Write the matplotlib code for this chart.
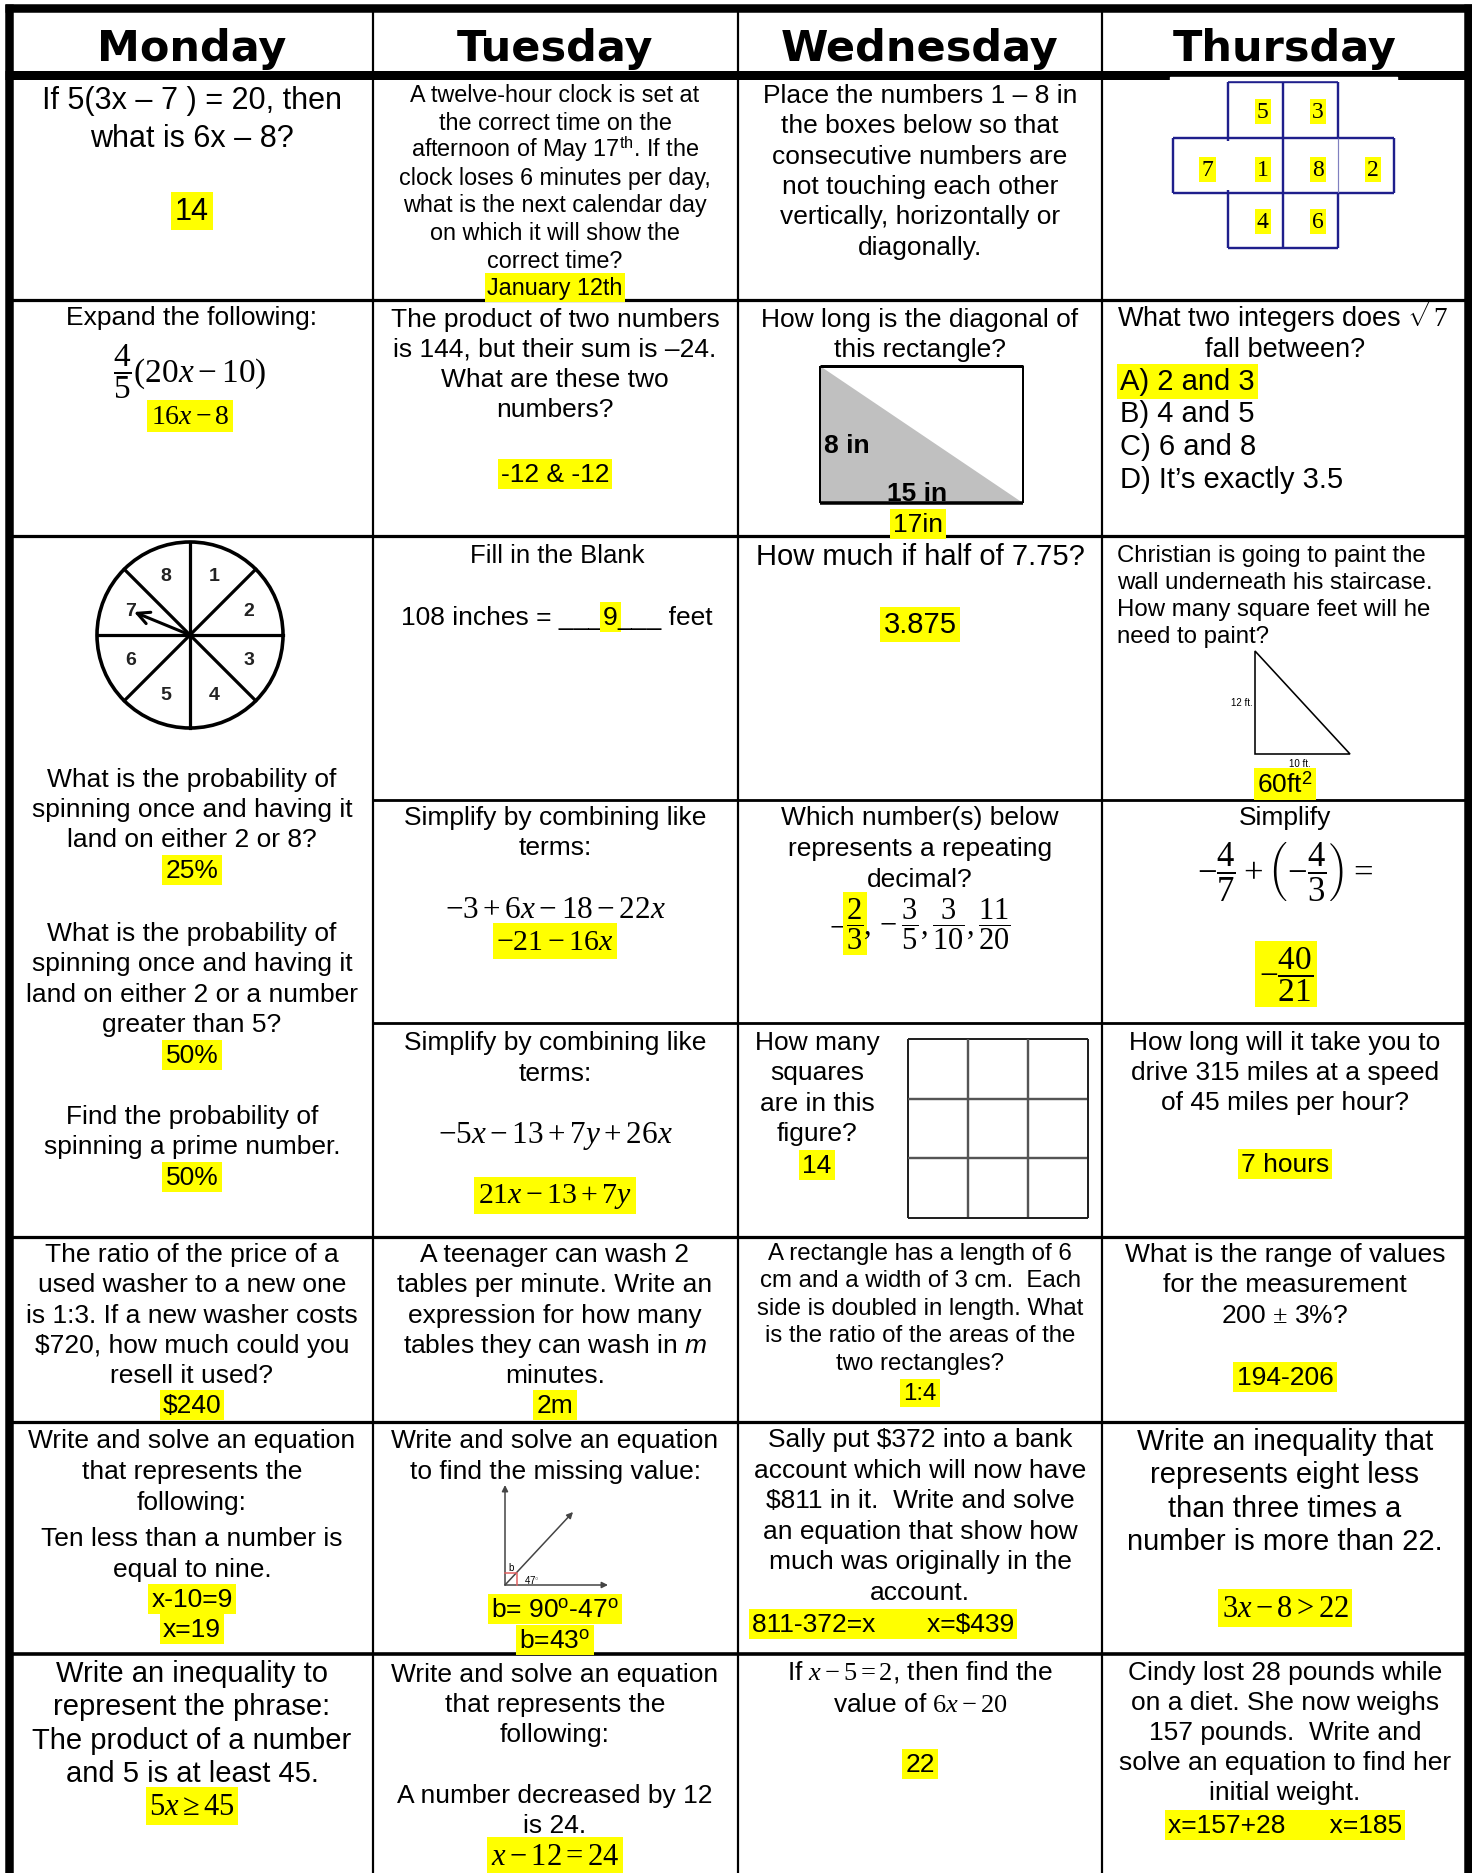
import numpy as np
import matplotlib
matplotlib.use("Agg")
import matplotlib.pyplot as plt
from matplotlib.patches import Circle, Polygon

plt.rcParams['mathtext.fontset'] = 'custom'
plt.rcParams['mathtext.rm'] = 'Liberation Serif'
plt.rcParams['mathtext.it'] = 'Liberation Serif:italic'
plt.rcParams['mathtext.bf'] = 'Liberation Sans:italic'
plt.rcParams['mathtext.sf'] = 'Liberation Sans'

BODY = 'Liberation Sans'
HEAD = 'DejaVu Sans'
YEL = '#ffff00'

# ---------------- worksheet content ----------------
days = ["Monday", "Tuesday", "Wednesday", "Thursday"]

mon1 = ["If 5(3x – 7 ) = 20, then", "what is 6x – 8?"]
mon1_ans = "14"
tue1 = ["A twelve-hour clock is set at", "the correct time on the",
        r"afternoon of May 17$^{\mathsf{th}}$. If the", "clock loses 6 minutes per day,",
        "what is the next calendar day", "on which it will show the", "correct time?"]
tue1_ans = "January 12th"
wed1 = ["Place the numbers 1 – 8 in", "the boxes below so that", "consecutive numbers are",
        "not touching each other", "vertically, horizontally or", "diagonally."]
puzzle_top = [5, 3]
puzzle_mid = [7, 1, 8, 2]
puzzle_bot = [4, 6]

mon2 = "Expand the following:"
mon2_expr = r"$\dfrac{4}{5}(20x-10)$"
mon2_ans = r"$16x-8$"
tue2 = ["The product of two numbers", "is 144, but their sum is –24.",
        "What are these two", "numbers?"]
tue2_ans = "-12 & -12"
wed2 = ["How long is the diagonal of", "this rectangle?"]
rect_labels = ["8 in", "15 in"]
wed2_ans = "17in"
thu2 = [r"What two integers does $\sqrt{7}$", "fall between?"]
thu2_opts = ["A) 2 and 3", "B) 4 and 5", "C) 6 and 8", "D) It’s exactly 3.5"]
thu2_correct = 0

spinner_nums = [1, 2, 3, 4, 5, 6, 7, 8]
mon3_q1 = ["What is the probability of", "spinning once and having it", "land on either 2 or 8?"]
mon3_a1 = "25%"
mon3_q2 = ["What is the probability of", "spinning once and having it",
           "land on either 2 or a number", "greater than 5?"]
mon3_a2 = "50%"
mon3_q3 = ["Find the probability of", "spinning a prime number."]
mon3_a3 = "50%"

tue3a = "Fill in the Blank"
tue3a_parts = ["108 inches = ___", "9", "___ feet"]
tue3b = ["Simplify by combining like", "terms:"]
tue3b_expr = r"$-3+6x-18-22x$"
tue3b_ans = r"$-21-16x$"
tue3c = ["Simplify by combining like", "terms:"]
tue3c_expr = r"$-5x-13+7y+26x$"
tue3c_ans = r"$21x-13+7y$"

wed3a = "How much if half of 7.75?"
wed3a_ans = "3.875"
wed3b = ["Which number(s) below", "represents a repeating", "decimal?"]
wed3b_fracs = [r"$-$", r"$\dfrac{2}{3}$", r"$,-\dfrac{3}{5},\dfrac{3}{10},\dfrac{11}{20}$"]
wed3c = ["How many", "squares", "are in this", "figure?"]
wed3c_ans = "14"
grid_n = 3

thu3a = ["Christian is going to paint the", "wall underneath his staircase.",
         "How many square feet will he", "need to paint?"]
tri_labels = ["12 ft.", "10 ft."]
thu3a_ans = r"60ft$^{\mathsf{2}}$"
thu3b = "Simplify"
thu3b_expr = r"$-\dfrac{4}{7}+\left(-\dfrac{4}{3}\right)=$"
thu3b_ans = r"$-\dfrac{40}{21}$"
thu3c = ["How long will it take you to", "drive 315 miles at a speed", "of 45 miles per hour?"]
thu3c_ans = "7 hours"

mon4 = ["The ratio of the price of a", "used washer to a new one",
        "is 1:3. If a new washer costs", "$720, how much could you", "resell it used?"]
mon4_ans = "$240"
tue4 = ["A teenager can wash 2", "tables per minute. Write an", "expression for how many",
        r"tables they can wash in $\mathbf{m}$", "minutes."]
tue4_ans = "2m"
wed4 = ["A rectangle has a length of 6", "cm and a width of 3 cm.  Each",
        "side is doubled in length. What", "is the ratio of the areas of the",
        "two rectangles?"]
wed4_ans = "1:4"
thu4 = ["What is the range of values", "for the measurement", r"200 $\pm$ 3%?"]
thu4_ans = "194-206"

mon5 = ["Write and solve an equation", "that represents the", "following:"]
mon5b = ["Ten less than a number is", "equal to nine."]
mon5_ans = ["x-10=9", "x=19"]
tue5 = ["Write and solve an equation", "to find the missing value:"]
angle_labels = ["b", r"47$^{\circ}$"]
tue5_ans = [r"b= 90$^{\mathsf{o}}$-47$^{\mathsf{o}}$", r"b=43$^{\mathsf{o}}$"]
wed5 = ["Sally put $372 into a bank", "account which will now have",
        "$811 in it.  Write and solve", "an equation that show how",
        "much was originally in the", "account."]
wed5_ans = "811-372=x       x=$439"
thu5 = ["Write an inequality that", "represents eight less",
        "than three times a", "number is more than 22."]
thu5_ans = r"$3x-8>22$"

mon6 = ["Write an inequality to", "represent the phrase:",
        "The product of a number", "and 5 is at least 45."]
mon6_ans = r"$5x\geq45$"
tue6 = ["Write and solve an equation", "that represents the", "following:"]
tue6b = ["A number decreased by 12", "is 24."]
tue6_ans = r"$x-12=24$"
wed6 = [r"If $x-5=2$, then find the", r"value of $6x-20$"]
wed6_ans = "22"
thu6 = ["Cindy lost 28 pounds while", "on a diet. She now weighs",
        "157 pounds.  Write and", "solve an equation to find her", "initial weight."]
thu6_ans = "x=157+28      x=185"

# ---------------- figure ----------------
W, H = 1472, 1874
fig = plt.figure(figsize=(W / 100, H / 100), dpi=100)
ax = fig.add_axes([0, 0, 1, 1])
ax.set_xlim(0, W)
ax.set_ylim(H, 0)
ax.axis('off')
rend = fig.canvas.get_renderer()

HL = dict(boxstyle='square,pad=0.12', fc=YEL, ec='none')


def txt(x, y, s, size, ha='center', hl=False, math=False, **kw):
    kw.setdefault('family', BODY)
    return ax.text(x, y, s, fontsize=size, ha=ha, va='baseline', parse_math=math,
                   bbox=HL if hl else None, zorder=4, **kw)


def stack(x, y0, step, lines, size, ha='center', math=True):
    for i, s in enumerate(lines):
        txt(x, y0 + i * step, s, size, ha=ha, math=math and '$' in s and s.count('$') % 2 == 0)


def segments(xc, y, parts, size, hls, math=True):
    objs = [txt(0, y, s, size, ha='left', hl=h, math=math) for s, h in zip(parts, hls)]
    widths = [o.get_window_extent(rend).width for o in objs]
    x = xc - sum(widths) / 2
    out = []
    for o, w in zip(objs, widths):
        o.set_x(x)
        out.append((x, x + w))
        x += w
    return out


def px(p):
    return p * 0.72


def hline(y, x0, x1, w, color='black'):
    ax.plot([x0, x1], [y, y], color=color, lw=px(w), solid_capstyle='butt', zorder=3)


def vline(x, y0, y1, w, color='black'):
    ax.plot([x, x], [y0, y1], color=color, lw=px(w), solid_capstyle='butt', zorder=3)


# table frame
cols = [373, 738, 1102]
cx = [192, 555, 920, 1285]
vline(9, 5, H, 8.5)
vline(1468, 5, H, 8.5)
hline(9, 5, W, 8.5)
hline(75.5, 5, W, 9)
for c in cols:
    vline(c, 9, H, 2.2)
for y, w in [(301, 3.2), (537, 3.2), (1238, 3.2), (1423, 3.2), (1655, 3.6)]:
    hline(y, 9, 1468, w)
for y in [801, 1024]:
    hline(y, 373, 1468, 2.8)

# header
for x, d in zip(cx, days):
    ax.text(x, 61, d, fontsize=31, fontweight='bold', family=HEAD,
            ha='center', va='baseline', zorder=4)

# ---------- row 1 ----------
stack(cx[0], 109, 38, mon1, 22)
txt(cx[0], 220, mon1_ans, 22, hl=True)
stack(cx[1], 102, 27.6, tue1, 16.8)
txt(cx[1], 295, tue1_ans, 16.8, hl=True)
stack(cx[2], 103, 30.3, wed1, 19)

# number puzzle (navy boxes)
NAVY = '#1f1f8c'
ax.fill_between([1170, 1397], 78.2, 81, color='white', zorder=3.5)
xs = [1172.7, 1228.3, 1283.3, 1338.3, 1394]
ys = [82.7, 139, 194, 249.3]
hline(ys[0], xs[1], xs[3], 2.4, NAVY)
hline(ys[1], xs[0], xs[4], 2.4, NAVY)
hline(ys[2], xs[0], xs[4], 2.4, NAVY)
hline(ys[3], xs[1], xs[3], 2.4, NAVY)
vline(xs[0], ys[1], ys[2], 2.4, NAVY)
vline(xs[4], ys[1], ys[2], 2.4, NAVY)
vline(xs[2], ys[0], ys[3], 2.4, NAVY)
vline(xs[1], ys[0], ys[1] + 3, 2.4, NAVY)
vline(xs[1], ys[2] - 3, ys[3], 2.4, NAVY)
vline(xs[3], ys[0], ys[1], 2.4, NAVY)
vline(xs[3], ys[1], ys[2], 1.2, '#8080c0')
vline(xs[3], ys[2], ys[3], 2.4, NAVY)
for row, (cells, yb) in enumerate([(puzzle_top, 118), (puzzle_mid, 176), (puzzle_bot, 228)]):
    first = 1 if len(cells) == 2 else 0
    for j, n in enumerate(cells):
        xc_ = (xs[first + j] + xs[first + j + 1]) / 2 + 7
        ax.text(xc_, yb, str(n), fontsize=17, family='Liberation Serif', ha='center',
                va='baseline', zorder=4,
                bbox=dict(boxstyle='square,pad=0.1', fc=YEL, ec='none'))

# ---------- row 2 ----------
txt(cx[0], 325, mon2, 19)
txt(190, 383, mon2_expr, 24, math=True)
txt(190, 424, mon2_ans, 20, hl=True, math=True)
stack(cx[1], 327, 30, tue2, 19)
txt(cx[1], 482, tue2_ans, 19, hl=True)
stack(cx[2], 327, 30, wed2, 19)
rx0, rx1, ry0, ry1 = 820, 1023, 367, 504
ax.add_patch(Polygon([(rx0, ry0), (rx0, ry1), (rx1, ry1)], closed=True,
                     fc='#c0c0c0', ec='none', zorder=2))
hline(ry0, rx0, rx1, 3)
hline(ry1, rx0, rx1, 3.5)
vline(rx0, ry0, ry1, 2)
vline(rx1, ry0, ry1, 2)
txt(rx0 + 4, 453, rect_labels[0], 19, ha='left', fontweight='bold')
txt(917, 501, rect_labels[1], 19, fontweight='bold')
txt(918, 532, wed2_ans, 19, hl=True)
stack(cx[3], 327, 30, thu2, 19.5)
for i, o in enumerate(thu2_opts):
    txt(1120, 390 + i * 32.5, o, 21, ha='left', hl=(i == thu2_correct))

# ---------- row 3 ----------
scx, scy, sr = 190, 636, 93
ax.add_patch(Circle((scx, scy), sr, fill=False, lw=px(3.6), ec='black', zorder=3))
for a in np.radians([0, 45, 90, 135]):
    ax.plot([scx - sr * np.cos(a), scx + sr * np.cos(a)],
            [scy - sr * np.sin(a), scy + sr * np.sin(a)], color='black', lw=px(3.2), zorder=3)
for k, n in enumerate(spinner_nums):
    a = np.radians(67.5 - 45 * k)
    ax.text(scx + 64 * np.cos(a), scy - 64 * np.sin(a), str(n), fontsize=14,
            fontweight='bold', family=BODY, ha='center', va='center', color='#222222', zorder=4)
ax.annotate('', xy=(134, 613), xytext=(scx, scy),
            arrowprops=dict(arrowstyle='->', lw=2.2, color='black', shrinkA=0, shrinkB=0,
                            mutation_scale=22), zorder=4)
stack(cx[0], 787, 30, mon3_q1, 19)
txt(cx[0], 878, mon3_a1, 19, hl=True)
stack(cx[0], 941, 30.3, mon3_q2, 19)
txt(cx[0], 1063, mon3_a2, 19, hl=True)
stack(cx[0], 1124, 30, mon3_q3, 19)
txt(cx[0], 1185, mon3_a3, 19, hl=True)

txt(557, 563, tue3a, 18.5)
ext = segments(557, 625, tue3a_parts, 19, [False, True, False], math=False)
hline(628, ext[1][0], ext[1][1], 1.5)
stack(cx[1], 825, 30, tue3b, 19)
txt(cx[1], 918, tue3b_expr, 22.5, math=True)
txt(cx[1], 950, tue3b_ans, 21.5, hl=True, math=True)
stack(cx[1], 1050, 31, tue3c, 19)
txt(cx[1], 1143, tue3c_expr, 22.5, math=True)
txt(cx[1], 1203, tue3c_ans, 21.5, hl=True, math=True)

txt(cx[2], 565, wed3a, 21)
txt(cx[2], 633, wed3a_ans, 21, hl=True)
stack(cx[2], 825, 31, wed3b, 19)
segments(cx[2], 935, wed3b_fracs, 22, [False, True, False])
stack(817, 1050, 30.3, wed3c, 19)
txt(817, 1173, wed3c_ans, 19, hl=True)
gx0, gx1, gy0, gy1 = 908, 1088, 1040, 1219
for i in range(grid_n + 1):
    gx = gx0 + (gx1 - gx0) * i / grid_n
    gy = gy0 + (gy1 - gy0) * i / grid_n
    edge = i in (0, grid_n)
    vline(gx, gy0, gy1, 2 if edge else 2.4, '#222222' if edge else '#555555')
    hline(gy, gx0, gx1, 2 if edge else 2.4, '#222222' if edge else '#555555')

stack(1117, 562, 27, thu3a, 17.3, ha='left')
ax.add_patch(Polygon([(1255, 652), (1255, 755), (1350, 755)], closed=True, fill=False,
                     ec='black', lw=px(1.6), zorder=3))
txt(1253, 706, tri_labels[0], 7, ha='right')
txt(1300, 767, tri_labels[1], 7)
txt(1285, 793, thu3a_ans, 19, hl=True, math=True)
txt(cx[3], 825, thu3b, 19)
txt(cx[3], 883, thu3b_expr, 25, math=True)
txt(1286, 986, thu3b_ans, 24, hl=True, math=True)
stack(cx[3], 1050, 30, thu3c, 19)
txt(cx[3], 1172, thu3c_ans, 19, hl=True)

# ---------- row 4 ----------
stack(cx[0], 1262, 30.3, mon4, 19, math=False)
txt(cx[0], 1413, mon4_ans, 19, hl=True)
stack(cx[1], 1262, 30.3, tue4, 19)
txt(cx[1], 1413, tue4_ans, 19, hl=True)
stack(cx[2], 1260, 27.5, wed4, 17.3)
txt(cx[2], 1400, wed4_ans, 17.3, hl=True)
stack(cx[3], 1262, 30.5, thu4, 19)
txt(cx[3], 1385, thu4_ans, 19, hl=True)

# ---------- row 5 ----------
stack(cx[0], 1448, 31, mon5, 19)
stack(cx[0], 1546, 31, mon5b, 19)
txt(cx[0], 1607, mon5_ans[0], 19, hl=True)
txt(cx[0], 1637, mon5_ans[1], 19, hl=True)
stack(cx[1], 1448, 31, tue5, 19)
ox, oy = 505, 1586
for tip in [(505, 1486), (608, 1586), (573, 1513)]:
    ax.annotate('', xy=tip, xytext=(ox, oy),
                arrowprops=dict(arrowstyle='-|>', lw=1.1, color='#444444', shrinkA=0,
                                shrinkB=0, mutation_scale=9), zorder=4)
ax.plot([505, 516.7, 516.7], [1574.3, 1574.3, 1586], color='#e06060', lw=1.1, zorder=4)
txt(511.5, 1571, angle_labels[0], 7)
txt(532, 1584, angle_labels[1], 7, math=True)
txt(cx[1], 1617, tue5_ans[0], 19, hl=True, math=True)
txt(cx[1], 1648, tue5_ans[1], 19, hl=True, math=True)
stack(cx[2], 1447, 30.6, wed5, 19, math=False)
txt(752, 1632, wed5_ans, 19, ha='left', hl=True)
stack(cx[3], 1450, 33.3, thu5, 21)
txt(cx[3], 1617, thu5_ans, 22, hl=True, math=True)

# ---------- row 6 ----------
stack(cx[0], 1682, 33.3, mon6, 21)
txt(cx[0], 1815, mon6_ans, 22, hl=True, math=True)
stack(cx[1], 1682, 30, tue6, 19)
stack(cx[1], 1803, 30, tue6b, 19)
txt(cx[1], 1865, tue6_ans, 22, hl=True, math=True)
stack(cx[2], 1680, 32, wed6, 19)
txt(cx[2], 1772, wed6_ans, 19, hl=True)
stack(cx[3], 1680, 30, thu6, 19)
txt(cx[3], 1833, thu6_ans, 19, hl=True)

fig.savefig('out.png', dpi=100, facecolor='white')
